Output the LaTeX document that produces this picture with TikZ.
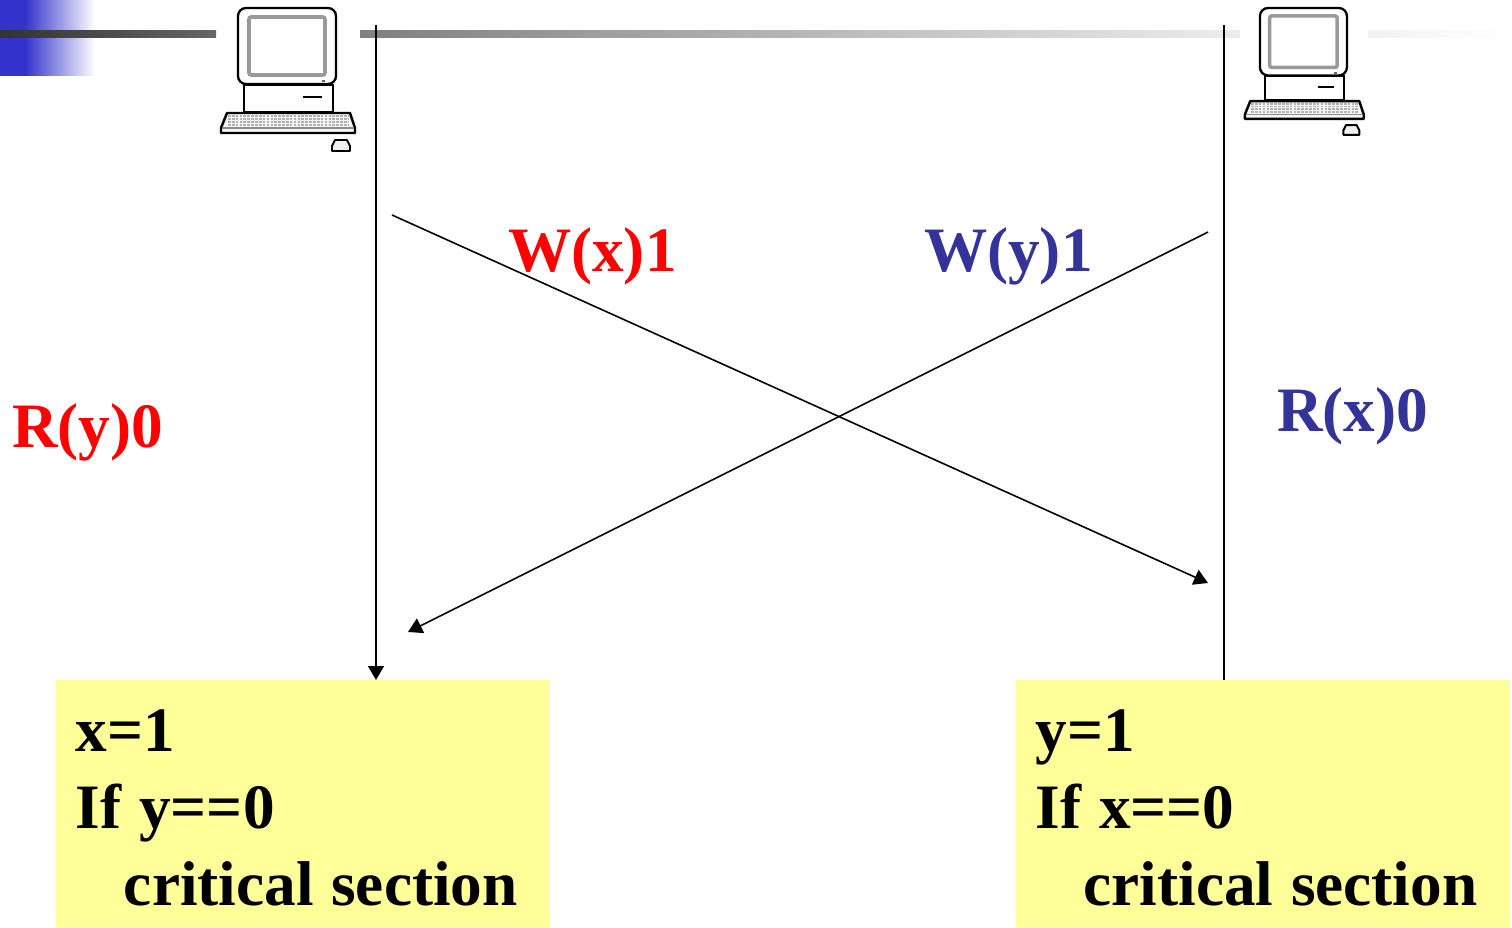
\documentclass[tikz,border=0pt]{standalone}
\usepackage{fontspec}
\setmainfont{Liberation Serif}
\usetikzlibrary{arrows.meta, positioning}

\definecolor{memred}{HTML}{FF0000}
\definecolor{memblue}{HTML}{333399}
\definecolor{boxyellow}{HTML}{FFFF99}
\definecolor{slideblue}{HTML}{3333CC}

\tikzset{
    pics/computer/.style={code={
        % Monitor
        \draw[line width=1.3pt, rounded corners=1.6mm] (18,0) rectangle (116,76);
        \draw[line width=2pt, draw=black!40, rounded corners=0.4mm] (29,9) rectangle (105,67);
        \fill[black!60] (102,72) rectangle (105,74);
        % Base
        \draw[line width=1.3pt] (24,77) rectangle (113,104);
        \draw[line width=0.9pt] (83,89) -- (102,89);
        % Keyboard
        \draw[line width=1.4pt, fill=black!4, line join=round] (7,105) -- (130,105) -- (135,120) -- (135,125) -- (1,125) -- (1,120) -- cycle;
        \foreach \keyrow in {108,111,114,117}
            \draw[black!30, line width=1pt, dash pattern=on 1.5pt off 0.7pt] (8,\keyrow) -- (128,\keyrow);
        \draw[black!45, line width=0.6pt] (2,120) -- (134,120);
        % Mouse
        \draw[line width=1.1pt, fill=black!6, line join=round] (112,143) -- (112,138) -- (115,132) -- (127,132) -- (130,138) -- (130,143) -- cycle;
    }}
}

\begin{document}
\begin{tikzpicture}[
    x=0.02cm, y=-0.02cm,
    node distance=9.32cm,
    every node/.style={font=\fontsize{36}{43.8}\selectfont\bfseries, inner sep=0pt, outer sep=0pt},
    redlabel/.style={text=memred, anchor=base west},
    bluelabel/.style={text=memblue, anchor=base west},
    sectionbox/.style={rectangle, fill=boxyellow, minimum width=9.88cm, minimum height=4.94cm, text width=9.08cm, align=left, inner xsep=0.4cm, text height=1.02cm, execute at begin node={\spaceskip=0.28em\relax}},
    arrow/.style={-{Triangle[length=0.28cm, width=0.32cm]}, line width=0.9pt},
    line/.style={line width=0.9pt}
]
\useasboundingbox (0,0) rectangle (1512,927);

% Slide decoration
\shade[left color=slideblue, middle color=slideblue!35, right color=white] (25,0) rectangle (95,75);
\fill[slideblue] (0,0) rectangle (25.5,75.6);
\shade[left color=black!80, right color=black!60] (0,30) rectangle (216,37);
\shade[left color=black!50, right color=black!7] (360,30) rectangle (1240,37);
\shade[left color=black!5, right color=white] (1368,30) rectangle (1512,37);

% Computers
\pic at (220,8) {computer};
\pic[scale=0.887] at (1244,8) {computer};

% Nodes
\node[sectionbox, anchor=north west] (leftbox) at (56,680) {x=1\\If y==0\\\hspace*{0.96cm}critical section};
\node[sectionbox, right=of leftbox] (rightbox) {y=1\\If x==0\\\hspace*{0.96cm}critical section};
\node[redlabel] (writex) at (508,271) {W(x)1};
\node[bluelabel] (writey) at (924,271) {W(y)1};
\node[redlabel] (ready) at (12,447) {R(y)0};
\node[bluelabel] (readx) at (1277,431) {R(x)0};

\coordinate (lefttop) at (376,25);
\coordinate (righttop) at (1224,25);
\coordinate (sendx) at (392,215);
\coordinate (recvx) at (1208,583);
\coordinate (sendy) at (1208,232);
\coordinate (recvy) at (408,632);

% Paths
\draw[arrow] (lefttop) -- (lefttop |- leftbox.north);
\draw[line] (righttop) -- (righttop |- rightbox.north);
\draw[arrow] (sendx) -- (recvx);
\draw[arrow] (sendy) -- (recvy);

\end{tikzpicture}
\end{document}
